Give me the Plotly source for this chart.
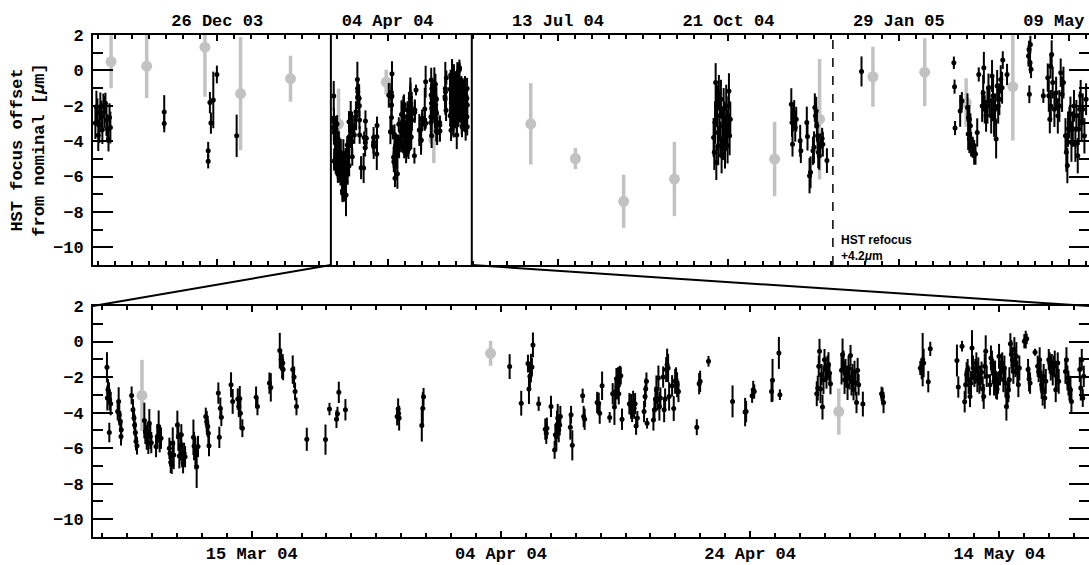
import pandas as pd
import plotly.graph_objects as go

# ---------------- data (days since 2004-01-01, focus offset [um], 1-sigma error [um]) -------------
# 2003 season (black points)
s03_day = [-77.5, -76.9, -76.3, -75.8, -75.2, -74.6, -74.0, -73.4, -72.8, -72.2, -71.6, -71.0, -70.4,
           -69.8, -69.2, -68.7, -37.1, -37.1, -11.3, -11.3, -10.3, -9.7, -8.3, -6.2, 5.4]
s03_val = [-2.98, -2.05, -2.38, -3.66, -3.10, -2.05, -2.61, -3.36, -2.01, -2.35, -1.86, -2.80, -3.28,
           -3.88, -2.66, -3.23, -2.35, -3.00, -4.54, -5.14, -1.82, -2.98, -1.67, -0.23, -3.70]
s03_err = [0.9, 0.9, 0.8, 0.9, 1.0, 0.8, 0.9, 0.8, 0.7, 0.9, 0.6, 0.9, 0.8,
           0.7, 0.8, 0.9, 0.95, 0.5, 0.5, 0.4, 0.6, 0.6, 1.6, 0.5, 1.2]

# March - May 2004 campaign (black points, shown in both panels)
m04_day = [62.38, 62.41, 62.46, 62.54, 62.57, 62.60, 62.68,
           63.24, 63.32, 63.37, 63.45, 63.51, 63.53,
           64.36, 64.47, 64.55, 64.60, 64.66, 64.71, 64.79,
           65.38, 65.46, 65.57, 65.65, 65.70, 65.78, 65.86, 65.94, 66.32, 66.42, 66.53, 66.61, 66.72,
           67.39, 67.44, 67.50, 67.58, 67.66, 67.74, 68.03, 68.11, 68.19, 68.27, 68.35, 68.41, 68.49, 68.57, 68.65,
           69.32, 69.37, 69.48, 69.58, 69.69,
           70.31, 70.39, 70.47, 70.52, 70.57,
           71.32, 71.40, 71.48, 71.56,
           72.34, 72.47, 72.88, 72.96, 73.04, 73.09, 73.25,
           74.35, 74.46, 75.42, 75.53,
           76.25, 76.36, 76.44, 76.49, 76.52,
           77.29, 77.40, 77.48, 77.59, 78.42, 79.92,
           80.24, 80.80, 80.88, 80.99, 81.52,
           85.67, 85.75, 85.79, 85.83, 87.65, 87.73, 87.79,
           94.70, 95.63, 96.17, 96.25, 96.33, 96.41, 96.49, 96.57, 97.03, 97.56, 97.64, 97.69,
           98.02, 98.31, 98.37, 98.45, 98.50, 98.56, 98.64, 98.72, 98.77,
           99.57, 99.63, 99.73, 100.56, 100.64, 100.72,
           101.72, 101.85, 101.93, 102.12, 102.73, 102.97,
           103.11, 103.19, 103.27, 103.32, 103.40, 103.46, 103.54, 103.62, 103.72,
           104.31, 104.45, 104.53, 104.61, 104.69, 104.77, 104.85, 104.95,
           105.49, 105.57, 105.62, 105.68, 105.73,
           106.24, 106.32, 106.40, 106.48, 106.56, 106.64, 106.72, 106.80,
           107.02, 107.10, 107.18, 107.26, 107.34, 107.42, 107.50, 107.74, 107.87, 107.98, 108.06, 108.14, 108.25,
           109.72, 109.91, 109.99, 110.66, 112.59, 113.60, 113.68, 114.16, 114.25, 114.33,
           115.72, 115.80, 116.31, 116.39,
           119.35, 119.43, 119.51, 119.57, 119.65, 119.73, 119.81, 119.89, 119.97, 120.05, 120.13, 120.21,
           120.29, 120.37, 120.45,
           121.34, 121.42, 121.50, 121.58, 121.66, 121.74, 121.82, 121.90, 121.98, 122.06, 122.14, 122.22,
           122.30, 122.38, 122.46, 122.54, 122.63, 122.71, 123.05,
           124.55, 124.63, 124.71,
           127.66, 127.77, 127.85, 127.93, 128.30, 128.46,
           130.60, 130.71, 131.01, 131.22, 131.30, 131.38, 131.46, 131.54, 131.65, 131.73, 131.81, 131.89,
           132.00, 132.08, 132.16, 132.24, 132.32, 132.40, 132.48, 132.58, 132.67, 132.75, 132.83, 132.91,
           132.99, 133.25, 133.33, 133.41, 133.50, 133.58, 133.66, 133.74, 133.82, 133.90, 133.98, 134.06,
           134.16, 134.24, 134.33, 134.41, 134.49, 134.57, 134.65, 134.73, 134.81, 134.89, 134.97, 135.05,
           135.13, 135.21, 135.29, 135.37, 135.45, 135.53, 135.61,
           136.01, 136.12, 136.20, 136.31, 136.39, 136.47, 136.87,
           137.08, 137.16, 137.24, 137.32, 137.40, 137.48, 137.56, 137.65, 137.73,
           137.97, 138.05, 138.13, 138.21, 138.29, 138.37, 138.45, 138.53, 138.61, 138.69, 138.77,
           139.31, 139.39, 139.47, 139.55, 139.63, 139.71, 139.79,
           140.46, 140.54, 140.62, 140.70, 140.78]
m04_val = [-1.45, -3.18, -2.71, -2.90, -5.12, -3.28, -3.50,
           -3.94, -3.37, -4.12, -4.50, -5.35, -4.97,
           -3.03, -3.84, -4.31, -4.69, -5.12, -5.63, -5.86,
           -4.44, -5.07, -5.39, -5.16, -5.73, -4.60, -5.35, -5.69, -5.91, -5.35, -4.78, -5.54, -5.44,
           -6.01, -6.29, -6.80, -6.95, -5.73, -6.38, -4.69, -5.35, -6.44, -5.91, -5.25, -6.38, -6.82, -6.29, -6.48,
           -5.39, -5.88, -6.29, -7.04, -5.91,
           -4.22, -4.50, -4.78, -5.16, -5.86,
           -2.90, -5.39, -3.75, -4.26,
           -2.43, -3.37, -3.24, -3.65, -3.20, -4.03, -4.88,
           -3.13, -3.65, -2.34, -2.58,
           -0.51, -1.02, -1.49, -1.21, -1.58,
           -1.58, -2.00, -2.81, -3.65, -5.50, -5.52,
           -3.80, -4.37, -4.07, -2.86, -3.84,
           -4.22, -3.80, -4.05, -4.31, -4.73, -3.75, -3.11,
           -1.41, -3.47, -1.24, -2.67, -1.96, -1.49, -1.43, -0.19, -3.50, -4.93, -5.16, -4.88,
           -3.65, -6.10, -5.25, -5.35, -4.69, -4.31, -4.97, -4.69, -4.22,
           -4.82, -4.12, -5.84, -3.05, -4.22, -4.37,
           -3.43, -3.47, -4.03, -2.49, -4.27, -2.94,
           -3.69, -2.90, -2.09, -2.56, -2.24, -2.94, -1.96, -1.92, -4.37,
           -3.50, -3.65, -4.03, -3.47, -3.75, -3.50, -4.75, -4.31,
           -3.94, -3.09, -2.67, -2.24, -4.60,
           -4.41, -3.84, -3.24, -2.71, -3.28, -2.05, -3.65, -3.18,
           -2.00, -3.84, -3.24, -1.58, -1.30, -1.49, -3.09, -2.49, -3.77, -2.24, -2.15, -2.43, -2.81,
           -4.82, -2.37, -2.24, -1.11, -3.37, -3.97, -3.94, -3.05, -2.71, -2.81,
           -2.81, -2.18, -0.64, -2.99,
           -2.94, -2.62, -1.39, -0.55, -2.67, -1.86, -3.69, -2.15, -1.02, -1.58, -2.05, -1.39,
           -1.30, -1.77, -2.37,
           -1.62, -0.73, -1.21, -2.15, -1.68, -1.96, -2.49, -1.49, -2.00, -0.79, -2.24, -1.96,
           -2.71, -1.68, -2.34, -3.43, -1.62, -2.43, -3.52,
           -2.94, -3.09, -3.43,
           -1.49, -1.62, -1.02, -1.21, -2.26, -0.41,
           -1.07, -2.56, -0.26, -3.39, -2.43, -1.86, -1.58, -2.15, -3.09, -2.34, -0.36, -1.49,
           -1.96, -1.68, -1.21, -2.15, -1.49, -2.34, -2.05, -1.73, -2.67, -3.09, -1.39, -0.55,
           -1.96, -2.43, -0.92, -1.21, -1.68, -2.24, -1.77, -2.52, -2.67, -2.34, -0.83, -1.77,
           -1.39, -1.21, -2.15, -1.49, -2.34, -3.65, -3.09, -2.71, -2.15, -0.13, -0.73, -1.02,
           -1.68, -0.45, -1.30, -0.83, -1.77, -2.43, -1.49,
           0.02, 0.11, 0.15, -1.58, -2.11, -2.34, -0.60,
           -1.39, -1.68, -1.02, -1.96, -2.43, -2.81, -1.96, -3.18, -2.24,
           -1.02, -1.21, -1.49, -1.30, -1.77, -1.39, -1.21, -2.71, -1.96, -1.21, -2.24,
           -1.68, -1.02, -2.05, -2.34, -2.62, -2.71, -3.37,
           -1.58, -2.62, -1.02, -3.18, -1.96]
m04_err = [0.85, 0.7, 0.6, 0.6, 0.55, 0.6, 0.65,
           0.5, 0.8, 0.6, 0.6, 0.5, 0.6,
           0.5, 0.6, 0.6, 0.6, 0.6, 0.5, 0.5,
           1.0, 0.7, 0.7, 0.6, 0.6, 0.8, 0.7, 0.6, 0.6, 0.7, 0.9, 0.7, 0.6,
           0.6, 0.7, 0.6, 0.5, 0.9, 0.8, 0.8, 0.8, 0.7, 0.8, 0.6, 0.7, 0.6, 0.6, 0.6,
           1.0, 0.8, 0.9, 1.2, 0.6,
           0.5, 0.6, 0.6, 0.6, 0.6,
           0.6, 0.6, 0.6, 0.5,
           0.7, 0.7, 0.6, 0.6, 0.7, 0.9, 0.5,
           0.6, 0.5, 0.6, 0.8,
           1.0, 0.6, 0.6, 0.5, 0.6,
           0.8, 0.6, 0.5, 0.5, 0.65, 0.85,
           0.35, 0.5, 0.4, 0.6, 0.6,
           0.5, 0.6, 0.4, 0.7, 0.9, 0.9, 0.5,
           0.7, 0.7, 0.5, 0.85, 0.7, 0.8, 0.5, 0.7, 0.4, 0.6, 0.6, 0.6,
           0.6, 0.5, 0.6, 0.8, 0.8, 0.8, 0.7, 0.6, 0.6,
           0.7, 0.5, 0.85, 0.4, 0.6, 0.6,
           0.6, 0.6, 0.6, 0.8, 0.3, 0.6,
           1.0, 0.7, 0.6, 0.7, 0.8, 0.6, 0.6, 0.5, 0.6,
           0.6, 0.7, 0.5, 0.7, 0.6, 0.6, 0.5, 0.4,
           0.6, 0.6, 0.6, 0.5, 0.3,
           0.6, 0.6, 0.7, 0.8, 0.6, 0.7, 0.8, 0.6,
           0.6, 0.7, 0.6, 0.7, 0.9, 0.8, 0.8, 0.6, 0.7, 0.7, 0.7, 0.7, 0.6,
           0.45, 0.6, 0.6, 0.3, 0.9, 0.8, 0.6, 0.4, 0.5, 0.4,
           0.6, 1.2, 0.9, 0.3,
           0.7, 0.7, 0.6, 0.7, 0.8, 0.6, 0.7, 0.8, 0.6, 0.7, 0.6, 0.6,
           0.7, 0.6, 0.6,
           0.8, 0.9, 0.7, 0.8, 0.7, 0.6, 0.8, 0.7, 0.7, 0.6, 0.8, 0.7,
           0.6, 0.6, 0.7, 0.6, 0.7, 0.6, 0.7,
           0.4, 0.5, 0.6,
           0.4, 0.5, 1.5, 0.8, 0.6, 0.4,
           0.9, 0.6, 0.3, 0.6, 0.8, 0.7, 0.6, 0.8, 0.6, 0.7, 1.0, 0.7,
           0.6, 0.7, 0.6, 0.7, 0.6, 0.6, 0.7, 0.6, 0.7, 0.7, 0.7, 0.9,
           0.6, 0.6, 0.7, 0.7, 0.7, 0.8, 0.7, 0.7, 0.6, 0.6, 0.7, 0.7,
           0.7, 0.6, 0.7, 0.7, 0.8, 0.8, 0.7, 0.7, 0.7, 0.6, 0.8, 0.7,
           0.7, 0.7, 0.7, 0.8, 0.7, 0.7, 0.7,
           0.4, 0.5, 0.3, 0.6, 0.7, 0.6, 0.2,
           0.6, 0.6, 0.7, 0.8, 0.8, 0.8, 0.7, 0.6, 0.7,
           0.6, 0.6, 0.7, 0.6, 0.7, 0.6, 0.7, 0.7, 0.7, 0.6, 0.7,
           0.7, 0.7, 0.7, 0.7, 0.7, 0.7, 0.6,
           0.7, 0.7, 0.6, 0.5, 0.6]

# October - December 2004 (black points)
o04_day = [285.3, 285.7, 286.1, 286.5, 286.9, 287.3, 287.7, 288.0, 288.4, 288.8, 289.2, 289.6, 290.0,
           290.4, 290.8, 291.2, 291.6, 292.0, 292.3, 292.7, 293.1, 293.5, 293.9, 294.3, 294.7, 295.1,
           330.9, 331.3, 331.6, 332.0, 332.6, 333.2, 333.8, 336.1, 336.5, 340.0, 340.4, 341.6, 342.2,
           343.6, 344.2, 344.7, 345.1, 345.5, 345.9, 346.3, 346.7, 347.3, 347.9, 349.0, 349.4, 351.8]
o04_val = [-3.79, -4.63, -2.95, -0.69, -5.20, -2.01, -3.51, -4.26, -1.26, -2.57, -3.88, -1.63, -4.82,
           -3.13, -4.07, -2.20, -2.76, -4.45, -3.51, -2.01, -3.32, -4.26, -2.57, -1.16, -3.70, -2.76,
           -1.91, -2.95, -4.17, -2.66, -2.38, -3.23, -2.76, -3.98, -4.54, -2.95, -3.73, -5.95, -5.76,
           -4.54, -4.35, -2.10, -2.57, -2.29, -3.13, -3.70, -4.63, -4.82, -4.26, -3.85, -4.17, -5.10]
o04_err = [1.1, 1.0, 1.2, 1.1, 1.0, 1.2, 1.0, 1.1, 1.0, 1.2, 1.0, 1.1, 1.0,
           1.1, 1.0, 1.2, 1.0, 1.1, 1.0, 1.2, 1.1, 1.0, 1.1, 1.0, 1.1, 1.0,
           0.9, 0.8, 0.7, 0.8, 0.7, 0.8, 0.7, 0.9, 0.7, 0.9, 0.8, 1.0, 0.9,
           0.8, 0.9, 0.8, 0.7, 0.8, 0.9, 0.8, 0.9, 0.8, 0.7, 0.6, 0.7, 0.7]

# 2005 season (black points)
s05_day = [372.1, 426.3, 426.7, 427.0, 430.0, 431.0, 434.3, 434.9, 435.4, 436.0, 434.7, 435.4, 436.4,
           437.4, 438.2, 439.0, 440.0, 440.9, 442.9, 443.5, 443.9, 444.4, 445.2, 446.0, 446.6, 447.2,
           448.2, 448.7, 449.3, 449.9, 450.5, 451.1, 451.7, 452.3, 453.0, 453.8, 454.6, 455.0, 457.5,
           470.1, 470.4, 471.0, 471.6, 470.6, 471.2, 478.8, 481.4, 482.0, 482.6, 483.2, 483.7, 483.0,
           484.3, 485.3, 486.3, 487.3, 488.2, 489.0, 489.8, 490.6, 491.8, 492.3, 492.9, 493.3, 494.1,
           494.7, 495.3, 496.1, 496.8, 497.6, 498.2, 499.0, 499.6, 500.2, 500.7, 501.3, 501.9, 502.9, 503.9]
s05_val = [-0.06, 0.43, -0.92, -3.26, -2.29, -1.73, -2.10, -2.66, -2.76, -3.13, -3.60, -3.88, -4.17,
           -4.35, -4.63, -4.73, -3.51, -0.23, -2.01, -1.26, 0.15, -2.20, -2.57, -2.01, -0.98, -1.73,
           -2.57, -0.32, -1.44, -2.76, -2.20, -3.88, -0.88, -2.01, -1.63, -0.51, -0.98, 0.58, -0.23,
           0.81, 1.18, 0.43, 0.06, -1.35, 1.46, -1.44, -0.41, -1.44, -2.76, -2.01, 0.90, 0.24,
           -0.69, -2.20, -1.26, -2.57, -2.01, -0.13, -1.35, -0.69, -3.70, -4.63, -5.38, -3.32, -2.95,
           -2.48, -4.07, -3.32, -2.01, -4.17, -2.57, -4.82, -3.32, -2.20, -1.44, -2.95, -2.20, -3.70, -1.63]
s05_err = [0.85, 0.35, 0.4, 0.4, 0.9, 0.5, 0.8, 0.7, 0.8, 0.7, 0.9, 0.8, 0.7,
           0.6, 0.7, 0.6, 0.8, 0.4, 0.9, 1.0, 0.9, 0.8, 0.9, 1.0, 0.8, 0.9,
           1.0, 0.9, 1.1, 1.0, 0.9, 1.1, 0.9, 1.0, 0.9, 0.8, 0.9, 0.5, 0.6,
           0.6, 0.5, 0.6, 0.5, 0.5, 0.5, 0.4, 0.8, 0.9, 0.8, 0.9, 0.8, 0.7,
           0.9, 1.0, 0.9, 1.0, 0.9, 0.8, 1.0, 0.9, 1.0, 1.1, 1.0, 1.0, 0.9,
           1.0, 1.1, 1.0, 0.9, 1.0, 0.9, 1.0, 0.9, 1.0, 0.9, 1.0, 0.9, 1.0, 0.9]

# grey points (independent focus measurements)
grey_day = [-68.3, -47.4, -13.2, 7.7, 37.0, 65.19, 93.17, 121.12, 178.0, 204.2, 232.5, 262.3,
            321.1, 347.5, 378.8, 409.2, 433.5, 460.9]
grey_val = [0.49, 0.24, 1.31, -1.31, -0.47, -3.03, -0.66, -3.94, -3.02, -4.98, -7.40, -6.14,
            -5.01, -2.76, -0.36, -0.10, -1.82, -0.92]
grey_err = [1.5, 1.8, 2.8, 3.2, 1.3, 2.0, 0.7, 1.3, 2.3, 0.6, 1.5, 2.1,
            2.1, 3.4, 1.7, 1.92, 1.37, 3.05]

# layout constants (days since 2004-01-01)
TOP_RANGE = [-78.9, 505.6]
BOT_RANGE = [61.26, 141.2]
ZOOM_BOX = [60.7, 143.4]
REFOCUS_DAY = 355.3

EPOCH = pd.Timestamp("2004-01-01")


def to_dates(days):
    return [EPOCH + pd.Timedelta(days=float(d)) for d in days]


black_day = s03_day + m04_day + o04_day + s05_day
black_val = s03_val + m04_val + o04_val + s05_val
black_err = s03_err + m04_err + o04_err + s05_err

FONT = "Liberation Mono"
GREY = "#c2c2c2"

fig = go.Figure()
for xa, ya in (("x", "y"), ("x2", "y2")):
    fig.add_trace(go.Scatter(
        x=to_dates(grey_day), y=grey_val, mode="markers", xaxis=xa, yaxis=ya,
        marker=dict(size=11, color=GREY),
        error_y=dict(type="data", array=grey_err, color=GREY, thickness=3.5, width=0),
        hoverinfo="skip"))
    fig.add_trace(go.Scatter(
        x=to_dates(black_day), y=black_val, mode="markers", xaxis=xa, yaxis=ya,
        marker=dict(size=5, color="black"),
        error_y=dict(type="data", array=black_err, color="black", thickness=2, width=0),
        hoverinfo="skip"))

H, W = 565, 1089
M_T, M_B = 35, 28
plot_h = H - M_T - M_B
top_dom = [(H - M_B - 265) / plot_h, 1.0]
bot_dom = [0.0, (H - M_B - 306) / plot_h]

DAY_MS = 86400000
common_y = dict(range=[-11, 2], tick0=0, dtick=2, ticks="inside", ticklen=20, tickwidth=2,
                minor=dict(dtick=1, ticks="inside", ticklen=10, tickwidth=2, tickcolor="black"),
                showline=True, linewidth=2, linecolor="black", mirror="ticks", tickcolor="black",
                showgrid=False, zeroline=False, tickfont=dict(family=FONT, size=17, weight="bold"),
                ticklabelstandoff=4, automargin=False)
common_x = dict(type="date", tickformat="%d %b %y", ticks="inside", ticklen=6, tickwidth=1.5,
                showline=True, linewidth=2, linecolor="black", mirror="ticks", tickcolor="black",
                showgrid=False, zeroline=False, ticklabeloverflow="allow", automargin=False,
                tickfont=dict(family=FONT, size=17, weight="bold"))

fig.update_layout(
    width=W, height=H, margin=dict(l=93, r=0, t=M_T, b=M_B, autoexpand=False),
    paper_bgcolor="white", plot_bgcolor="white", showlegend=False,
    font=dict(family=FONT, color="black", size=17),
    xaxis=dict(common_x, domain=[0, 1], anchor="y", side="top",
               range=to_dates(TOP_RANGE), tick0="2003-12-26", dtick=100 * DAY_MS,
               minor=dict(dtick=10 * DAY_MS, tick0="2003-12-26", ticks="inside", ticklen=4,
                          tickwidth=1.5, tickcolor="black")),
    yaxis=dict(common_y, domain=top_dom, anchor="x",
               title=dict(text="HST focus offset<br>from nominal [<i>\u03bc</i>m]",
                          font=dict(family=FONT, size=17, weight="bold"), standoff=4)),
    xaxis2=dict(common_x, domain=[0, 1], anchor="y2",
                range=to_dates(BOT_RANGE), tick0="2004-03-15", dtick=20 * DAY_MS,
                minor=dict(dtick=2 * DAY_MS, tick0="2004-03-15", ticks="inside", ticklen=4,
                           tickwidth=1.5, tickcolor="black")),
    yaxis2=dict(common_y, domain=bot_dom, anchor="x2"),
)

# zoom box in top panel, refocus marker
for d in ZOOM_BOX:
    fig.add_shape(type="line", xref="x", yref="y domain", x0=to_dates([d])[0], x1=to_dates([d])[0],
                  y0=0, y1=1, line=dict(color="black", width=2))
fig.add_shape(type="line", xref="x", yref="y domain", x0=to_dates([REFOCUS_DAY])[0],
              x1=to_dates([REFOCUS_DAY])[0], y0=0, y1=1, line=dict(color="black", width=1.5, dash="dash"))


def frac(d):
    return (d - TOP_RANGE[0]) / (TOP_RANGE[1] - TOP_RANGE[0])


fig.add_shape(type="line", xref="paper", yref="paper", x0=frac(ZOOM_BOX[0]), y0=top_dom[0],
              x1=0, y1=bot_dom[1], line=dict(color="black", width=2))
fig.add_shape(type="line", xref="paper", yref="paper", x0=frac(ZOOM_BOX[1]), y0=top_dom[0],
              x1=1, y1=bot_dom[1], line=dict(color="black", width=2))

fig.add_annotation(x=to_dates([REFOCUS_DAY])[0], xref="x", y=0, yref="y domain",
                   xanchor="left", yanchor="bottom", xshift=6, yshift=0, showarrow=False,
                   align="left", text="HST refocus<br>+4.2<i>\u03bc</i>m",
                   font=dict(family="Liberation Sans", size=12, weight="bold", color="black"))

fig.write_html("out.html", config={"displayModeBar": False},
               post_script="document.body.style.margin='0';")
